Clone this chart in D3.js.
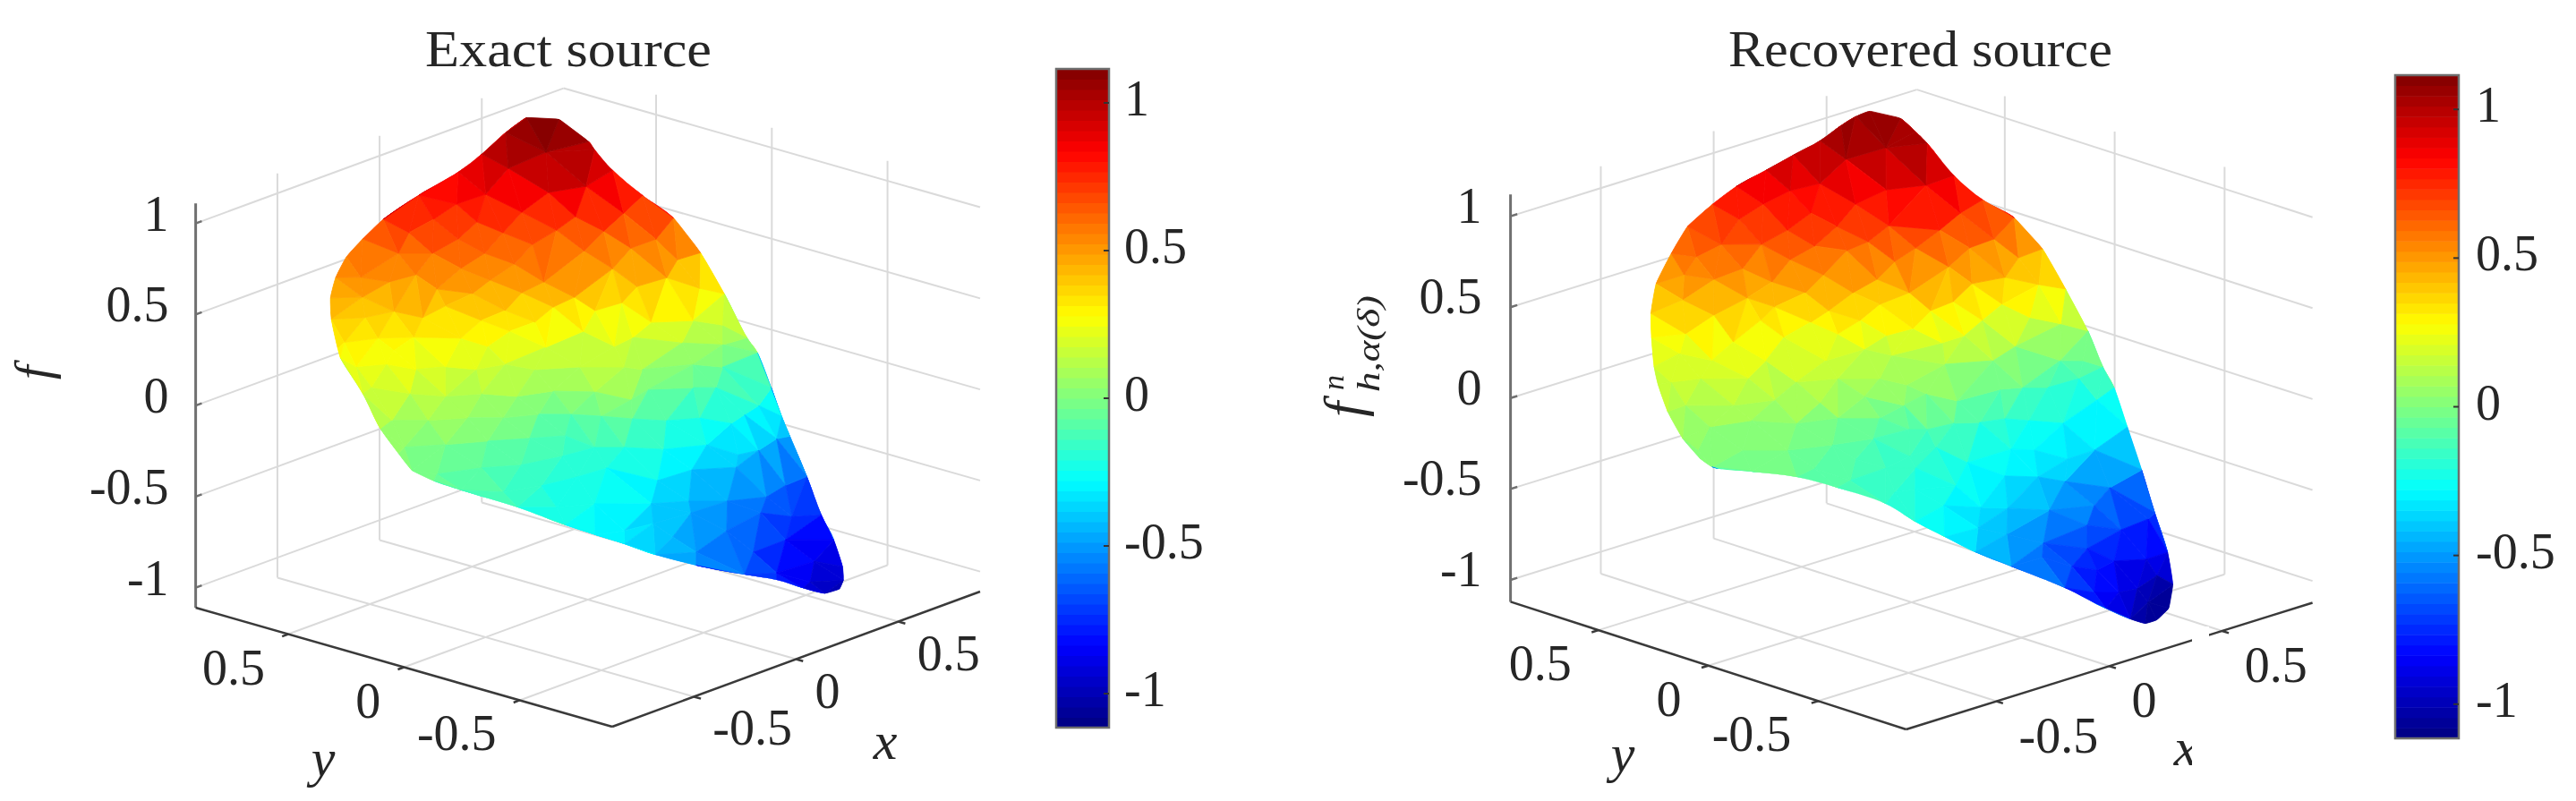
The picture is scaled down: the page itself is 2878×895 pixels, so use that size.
<!DOCTYPE html>
<html>
<head>
<meta charset="utf-8">
<script src="https://cdn.jsdelivr.net/npm/d3@7"></script>
<style>
html, body { margin: 0; padding: 0; background: #fff; }
svg { display: block; filter: blur(0.7px); }
text { font-family: "Liberation Serif", serif; fill: #262626; }
</style>
</head>
<body>
<div id="chart"></div>
<script>
//data: every node is [x, y, f], boundary nodes run clockwise round the domain
var xyTicks = [-0.5, 0, 0.5];
var zTicks = [-1, -0.5, 0, 0.5, 1];
var barTicks = [-1, -0.5, 0, 0.5, 1];

var exactBoundary = [
[.465,.677,1.10],[.536,.598,1.09],[.555,.486,1.0],[.548,.454,.97],[.569,.395,.87],[.609,.301,.75],
[.630,.186,.66],[.727,.154,.44],[.701,.028,.27],[.721,-.052,.05],[.835,.003,-.1],[.807,-.081,-.25],
[.737,-.188,-.34],[.771,-.193,-.46],[.778,-.260,-.66],[.685,-.405,-.78],[.633,-.505,-.86],[.547,-.619,-.93],
[.530,-.637,-.99],[.522,-.627,-1.04],[.403,-.669,-1.0],[.206,-.749,-.86],[.046,-.775,-.74],[-.146,-.806,-.62],
[-.359,-.785,-.49],[-.476,-.711,-.41],[-.556,-.649,-.34],[-.633,-.590,-.28],[-.678,-.501,-.24],[-.742,-.350,-.17],
[-.871,-.220,-.07],[-.916,-.144,-.03],[-.924,-.055,0],[-.867,.054,.03],[-.792,.197,.08],[-.685,.369,.17],
[-.601,.540,.27],[-.581,.569,.3],[-.496,.672,.39],[-.420,.743,.45],[-.323,.806,.5],[-.254,.820,.58],
[-.181,.814,.65],[-.085,.810,.72],[.062,.786,.8],[.184,.723,.9],[.273,.700,.97],[.403,.712,1.03]
];

var exactNodes = [
[.301,.447,1.06],[.223,.541,.97],[.323,.293,.92],[.265,.404,.87],[.171,.593,.83],[.076,.635,.8],
[.210,.471,.76],[.318,.335,.74],[.475,.265,.72],[.095,.563,.72],[-.005,.662,.74],[.125,.477,.68],
[-.076,.706,.68],[.286,.388,.66],[.023,.581,.65],[.182,.400,.62],[.421,.303,.63],[.513,.159,.6],
[.461,.221,.55],[.300,.281,.58],[.068,.506,.58],[-.071,.609,.6],[-.144,.692,.6],[.092,.399,.55],
[-.056,.500,.55],[.377,.226,.47],[.541,.091,.5],[-.296,.721,.52],[-.241,.645,.5],[-.172,.592,.53],
[.029,.448,.47],[.062,.245,.52],[.149,.190,.42],[.418,.157,.38],[.480,.083,.43],[.648,.088,.3],
[-.082,.426,.45],[-.152,.519,.47],[.030,.312,.45],[-.344,.670,.45],[-.316,.560,.4],[-.138,.494,.38],
[-.044,.318,.38],[.099,.237,.37],[.257,.196,.3],[.333,.147,.33],[.331,.018,.27],[.501,-.013,.22],
[.667,.006,.12],[-.397,.613,.38],[-.247,.496,.36],[-.101,.371,.33],[.042,.266,.3],[.213,.208,.2],
[-.519,.594,.3],[-.415,.542,.3],[-.331,.461,.3],[-.237,.340,.3],[-.052,.291,.28],[.273,.047,.2],
[.432,-.025,.13],[.221,.080,.16],[.615,-.040,.05],[.040,.217,.18],[-.419,.468,.26],[-.173,.281,.25],
[-.607,.466,.25],[-.536,.398,.26],[-.459,.338,.22],[-.348,.308,.2],[-.262,.252,.17],[-.173,.204,.18],
[-.096,.144,.14],[.048,.077,.12],[.115,-.056,.14],[.243,-.021,.06],[.473,-.038,0],[.557,-.091,-.03],
[-.633,.377,.18],[-.557,.278,.15],[-.460,.209,.12],[-.336,.163,.1],[-.239,.095,.07],[-.095,.067,.05],
[-.026,-.053,.06],[.032,-.158,.03],[.191,-.094,0],[.436,-.071,-.1],[.484,-.126,-.1],[.632,-.180,-.24],
[.548,-.193,-.25],[.480,-.195,-.27],[.358,-.168,-.2],[.185,-.177,-.14],[.031,-.166,-.07],[-.057,-.109,-.04],
[-.714,.216,.09],[-.610,.153,.07],[-.479,.098,.05],[-.348,.060,.01],[-.204,.033,-.02],[-.067,.013,-.07],
[-.766,.117,0],[-.645,.046,-.01],[-.487,.003,-.04],[-.336,-.045,-.07],[-.172,-.054,-.12],[-.155,-.167,-.15],
[-.051,-.203,-.18],[.101,-.239,-.24],[.308,-.242,-.3],[.411,-.287,-.38],[.488,-.307,-.38],[.668,-.226,-.42],
[-.816,-.068,-.06],[-.646,-.111,-.08],[-.488,-.140,-.12],[-.264,-.122,-.17],[-.216,-.272,-.2],[-.050,-.346,-.31],
[.144,-.322,-.34],[.368,-.317,-.42],[.429,-.394,-.58],[.611,-.315,-.62],[-.712,-.262,-.13],[-.516,-.255,-.18],
[-.305,-.223,-.23],[-.589,-.386,-.22],[-.427,-.407,-.26],[-.169,-.424,-.36],[.026,-.414,-.43],[.204,-.423,-.5],
[.324,-.461,-.6],[.526,-.417,-.72],[-.483,-.584,-.32],[-.300,-.547,-.37],[-.016,-.460,-.46],[.089,-.521,-.58],
[-.290,-.623,-.42],[-.218,-.661,-.52],[.122,-.607,-.68],[.421,-.483,-.78],[.154,-.680,-.78],[.485,-.550,-.9],
[.349,-.652,-.92]
];

var recoveredBoundary = [
[.529,.736,1.09],[.601,.667,1.05],[.579,.576,1.02],[.562,.505,.99],[.550,.371,.87],[.636,.329,.72],
[.709,.261,.62],[.809,.234,.42],[.732,.049,.3],[.743,-.041,.1],[.717,-.136,-.05],[.789,-.113,-.2],
[.696,-.269,-.32],[.657,-.374,-.5],[.640,-.451,-.7],[.585,-.566,-.85],[.562,-.613,-1.0],[.486,-.672,-1.08],
[.377,-.729,-1.08],[.262,-.794,-1.03],[.158,-.833,-.95],[.038,-.845,-.84],[-.151,-.853,-.65],[-.351,-.814,-.47],
[-.485,-.788,-.35],[-.536,-.702,-.28],[-.585,-.618,-.21],[-.590,-.489,-.16],[-.663,-.344,-.1],[-.743,-.240,-.05],
[-.858,-.153,-.01],[-.928,-.046,0],[-.898,.038,0],[-.859,.160,.05],[-.768,.322,.1],[-.691,.445,.17],
[-.613,.543,.2],[-.502,.669,.27],[-.449,.726,.36],[-.358,.796,.46],[-.225,.863,.55],[-.140,.876,.66],
[-.055,.850,.76],[.022,.820,.84],[.125,.791,.9],[.217,.761,.96],[.300,.725,1.02],[.391,.722,1.07],
[.449,.715,1.1]
];

var recoveredNodes = [
[.361,.487,1.05],[.292,.598,.97],[.191,.613,.87],[.086,.641,.86],[.334,.459,.84],[.217,.477,.8],
[.009,.684,.8],[-.062,.720,.73],[-.017,.547,.72],[.091,.552,.77],[.145,.489,.7],[.243,.353,.72],
[.355,.298,.92],[.480,.270,.73],[.377,.259,.68],[.300,.289,.6],[.539,.178,.6],[.472,.221,.56],
[.370,.211,.5],[-.177,.685,.65],[-.060,.621,.63],[-.064,.486,.6],[.021,.463,.65],[.126,.424,.6],
[.211,.414,.62],[.222,.304,.55],[-.257,.716,.6],[-.346,.679,.55],[-.246,.646,.5],[-.170,.594,.55],
[-.096,.536,.47],[.031,.433,.5],[.075,.343,.42],[.172,.333,.46],[-.359,.673,.42],[-.319,.572,.36],
[-.200,.542,.42],[-.150,.468,.38],[-.070,.410,.45],[-.029,.347,.36],[.024,.259,.32],[.117,.265,.37],
[.202,.217,.42],[-.412,.605,.28],[-.348,.453,.27],[-.200,.482,.32],[-.190,.385,.26],[-.074,.382,.3],
[-.058,.277,.27],[.103,.222,.22],[.050,.265,.15],[.176,.174,.25],[-.486,.555,.22],[-.438,.458,.2],
[-.292,.363,.18],[-.131,.255,.16],[.079,.173,.14],[.628,.158,.47],[.575,.165,.38],[.406,.142,.42],
[.626,.063,.36],[.327,.146,.35],[.226,.145,.34],[.427,.115,.22],[.508,.108,.28],[.579,.055,.2],
[.707,.044,.12],[.306,.072,.2],[.256,.123,.16],[.498,.037,.08],[.665,.005,-.05],[.778,.019,-.1],
[.424,.063,.02],[.188,.041,.1],[.003,-.064,.05],[.113,-.093,-.02],[.316,-.080,-.04],[.431,-.065,-.08],
[.537,-.069,-.12],[.709,-.035,-.15],[.713,-.112,-.24],[.500,-.177,-.26],[.403,-.121,-.23],[.273,-.145,-.16],
[.178,-.128,-.15],[.025,-.168,-.08],[-.054,-.127,-.1],[.510,-.309,-.36],[.387,-.313,-.36],[.298,-.253,-.3],
[.201,-.247,-.26],[-.042,-.298,-.22],[-.083,-.197,-.16],[-.247,-.272,-.18],[.561,-.326,-.58],[.300,-.390,-.42],
[.195,-.375,-.36],[.051,-.373,-.3],[-.180,-.387,-.26],[-.373,-.400,-.2],[.401,-.420,-.58],[.273,-.519,-.6],
[.141,-.483,-.48],[-.041,-.480,-.4],[-.172,-.492,-.34],[-.332,-.488,-.27],[.471,-.471,-.72],[.632,-.428,-.74],
[-.284,-.594,-.37],[-.136,-.573,-.47],[.049,-.550,-.6],[.263,-.530,-.72],[.338,-.575,-.8],[.524,-.530,-.88],
[-.028,-.624,-.62],[.078,-.650,-.7],[.211,-.627,-.78],[.231,-.706,-.88],[.400,-.617,-.96],[.099,-.730,-.82],
[.550,-.552,-.97],[.482,-.581,-1.08],[-.618,.460,.15],[-.564,.381,.18],[-.482,.249,.2],[-.309,.206,.13],
[-.205,.126,.14],[-.059,.084,.1],[.035,.058,.04],[-.671,.340,.09],[-.576,.219,.1],[-.445,.165,.1],
[-.325,.084,.07],[-.167,.042,.06],[-.039,-.005,-.02],[-.716,.184,.05],[-.590,.122,.06],[-.470,.041,.03],
[-.302,.026,0],[-.143,-.002,-.05],[-.069,-.060,-.12],[-.854,.095,.01],[-.728,.021,-.01],[-.590,-.041,-.04],
[-.425,-.076,-.06],[-.238,-.071,-.1],[-.180,-.175,-.18],[-.590,-.164,-.09],[-.409,-.165,-.11],[-.353,-.245,-.15],
[-.558,-.294,-.12],[-.451,-.387,-.19]
];

//setup
var width = 2878,
    height = 895,
    limXY = 0.9,
    numLevels = 64;

var panels = [
    {
        title: "Exact source", titleX: 475, titleLength: 320, nodes: exactNodes, boundary: exactBoundary,
        left: [218.6, 679], bottom: [684, 812], right: [1095, 661], limZ: 1.11, zSpan: 451.8,
        zTickLabel: { dx: -30, dy: 8 }, yTickLabel: { dx: -26, dy: 56 }, xTickLabel: { dx: 21, dy: 54 },
        barX: 1180, barWidth: 59, barTop: 77, barBottom: 813, barLabelX: 1256,
        yLabel: [361, 867], xLabel: [989, 848]
    },
    {
        title: "Recovered source", titleX: 1931, titleLength: 429, nodes: recoveredNodes, boundary: recoveredBoundary,
        left: [1687.6, 672.4], bottom: [2129.6, 815], right: [2583.6, 673.5], limZ: 1.12, zSpan: 455.2,
        zTickLabel: { dx: -32, dy: 7 }, yTickLabel: { dx: -30, dy: 56 }, xTickLabel: { dx: 25, dy: 57 },
        barX: 2676, barWidth: 71, barTop: 84, barBottom: 825, barLabelX: 2766,
        yLabel: [1813, 862], xLabel: [2442, 855]
    }
];

var svg = d3.select("#chart").append("svg")
    .attr("width", width)
    .attr("height", height);

// matlab jet, split into 64 flat levels
var jetScale = d3.scaleLinear()
    .domain([0, 0.125, 0.375, 0.625, 0.875, 1])
    .range(["#000080", "#0000ff", "#00ffff", "#ffff00", "#ff0000", "#800000"]);

var colorLimit = 1.115;

var levelScale = d3.scaleQuantize()
    .domain([-colorLimit, colorLimit])
    .range(d3.range(numLevels));

function levelColor(level) {
    return jetScale((level + 0.5) / numLevels);
}
// end of setup

function drawPanel(panel, index) {
    var g = svg.append("g");

    var xScale = d3.scaleLinear().domain([-limXY, limXY]).range([0, 1]);
    var yScale = d3.scaleLinear().domain([-limXY, limXY]).range([0, 1]);
    var zScale = d3.scaleLinear().domain([-panel.limZ, panel.limZ]).range([0, -panel.zSpan]);

    var bx = panel.bottom[0], by = panel.bottom[1];
    var rx = panel.right[0] - bx, ry = panel.right[1] - by;
    var lx = panel.left[0] - bx, ly = panel.left[1] - by;

    function project(x, y, z) {
        var tx = xScale(x), ty = yScale(y);
        return [bx + tx * rx + ty * lx, by + tx * ry + ty * ly + zScale(z)];
    }

    var lineGen = d3.line();

    function segment(parent, a, b, color, w) {
        parent.append("path")
            .attr("d", lineGen([a, b]))
            .attr("fill", "none")
            .attr("stroke", color)
            .attr("stroke-width", w);
    }

    //grid on floor and the two back walls
    var grid = g.append("g");
    var gridColor = "#dadada";
    var zMin = -panel.limZ, zMax = panel.limZ;

    xyTicks.forEach(function (t) {
        segment(grid, project(t, -limXY, zMin), project(t, limXY, zMin), gridColor, 2);
        segment(grid, project(-limXY, t, zMin), project(limXY, t, zMin), gridColor, 2);
        segment(grid, project(t, limXY, zMin), project(t, limXY, zMax), gridColor, 2);
        segment(grid, project(limXY, t, zMin), project(limXY, t, zMax), gridColor, 2);
    });
    zTicks.forEach(function (t) {
        segment(grid, project(-limXY, limXY, t), project(limXY, limXY, t), gridColor, 2);
        segment(grid, project(limXY, limXY, t), project(limXY, -limXY, t), gridColor, 2);
    });

    //surface
    var allNodes = panel.boundary.concat(panel.nodes);
    var screenNodes = allNodes.map(function (d) { return project(d[0], d[1], d[2]); });
    var outline = panel.boundary.map(function (d) { return project(d[0], d[1], d[2]); });

    svg.append("clipPath")
        .attr("id", "surface-clip-" + index)
        .append("path")
        .attr("d", d3.line().curve(d3.curveCatmullRomClosed.alpha(0.5))(outline));

    var delaunay = d3.Delaunay.from(screenNodes);
    var faces = [];
    for (var i = 0; i < delaunay.triangles.length; i += 3) {
        faces.push([delaunay.triangles[i], delaunay.triangles[i + 1], delaunay.triangles[i + 2]]);
    }

    g.append("g")
        .attr("clip-path", "url(#surface-clip-" + index + ")")
        .selectAll("path").data(faces)
        .enter().append("path")
        .attr("d", function (face) {
            return lineGen(face.map(function (n) { return screenNodes[n]; })) + "Z";
        })
        .each(function (face) {
            var mean = d3.mean(face, function (n) { return allNodes[n][2]; });
            var color = levelColor(levelScale(mean));
            d3.select(this).attr("fill", color).attr("stroke", color).attr("stroke-width", 0.8);
        });

    //axes
    var axisColor = "#3a3a3a";
    segment(g, project(-limXY, limXY, zMin), project(-limXY, limXY, zMax), "#707070", 3);
    segment(g, project(-limXY, limXY, zMin), project(-limXY, -limXY, zMin), axisColor, 2.5);
    segment(g, project(-limXY, -limXY, zMin), project(limXY, -limXY, zMin), axisColor, 2.5);

    var tickSize = 0.03;
    xyTicks.forEach(function (t) {
        segment(g, project(t, -limXY, zMin), project(t, -limXY - tickSize, zMin), axisColor, 2.5);
        segment(g, project(-limXY, t, zMin), project(-limXY - tickSize, t, zMin), axisColor, 2.5);

        var xp = project(t, -limXY, zMin);
        g.append("text")
            .attr("x", xp[0] + panel.xTickLabel.dx)
            .attr("y", xp[1] + panel.xTickLabel.dy)
            .attr("font-size", 56)
            .text(t);

        var yp = project(-limXY, t, zMin);
        g.append("text")
            .attr("x", yp[0] + panel.yTickLabel.dx)
            .attr("y", yp[1] + panel.yTickLabel.dy)
            .attr("text-anchor", "end")
            .attr("font-size", 56)
            .text(t);
    });

    zTicks.forEach(function (t) {
        var zp = project(-limXY, limXY, t);
        segment(g, zp, project(-limXY + tickSize, limXY, t), "#707070", 2.5);
        g.append("text")
            .attr("x", zp[0] + panel.zTickLabel.dx)
            .attr("y", zp[1] + panel.zTickLabel.dy)
            .attr("text-anchor", "end")
            .attr("font-size", 56)
            .text(t);
    });

    //labels
    g.append("text")
        .attr("x", panel.titleX)
        .attr("y", 74)
        .attr("font-size", 56)
        .attr("textLength", panel.titleLength)
        .attr("lengthAdjust", "spacingAndGlyphs")
        .text(panel.title);

    g.append("text")
        .attr("x", panel.yLabel[0])
        .attr("y", panel.yLabel[1])
        .attr("text-anchor", "middle")
        .attr("font-size", 60)
        .attr("font-style", "italic")
        .text("y");

    g.append("text")
        .attr("x", panel.xLabel[0])
        .attr("y", panel.xLabel[1])
        .attr("text-anchor", "middle")
        .attr("font-size", 60)
        .attr("font-style", "italic")
        .text("x");

    //colorbar
    var barScale = d3.scaleLinear()
        .domain([-colorLimit, colorLimit])
        .range([panel.barBottom, panel.barTop]);

    var levelHeight = (panel.barBottom - panel.barTop) / numLevels;

    g.append("g").selectAll("rect").data(d3.range(numLevels))
        .enter().append("rect")
        .attr("x", panel.barX)
        .attr("width", panel.barWidth)
        .attr("y", function (d) { return barScale(-colorLimit + (d + 1) * 2 * colorLimit / numLevels); })
        .attr("height", levelHeight + 0.5)
        .attr("fill", function (d) { return levelColor(d); });

    g.append("rect")
        .attr("x", panel.barX)
        .attr("y", panel.barTop)
        .attr("width", panel.barWidth)
        .attr("height", panel.barBottom - panel.barTop)
        .attr("fill", "none")
        .attr("stroke", "#6e6e6e")
        .attr("stroke-width", 2.5);

    barTicks.forEach(function (t) {
        segment(g, [panel.barX + panel.barWidth - 6, barScale(t)], [panel.barX + panel.barWidth, barScale(t)], "#333", 2);
        g.append("text")
            .attr("x", panel.barLabelX)
            .attr("y", barScale(t) + 14)
            .attr("font-size", 56)
            .text(t);
    });
}

panels.forEach(drawPanel);

//z label, left panel
svg.append("text")
    .attr("transform", "translate(56,424) rotate(-90)")
    .attr("font-size", 56)
    .attr("font-style", "italic")
    .text("f");

//z label, right panel
svg.append("text")
    .attr("transform", "translate(1522,466) rotate(-90)")
    .attr("font-size", 62)
    .attr("font-style", "italic")
    .text("f");

svg.append("text")
    .attr("transform", "translate(1501,436) rotate(-90)")
    .attr("font-size", 34)
    .attr("font-style", "italic")
    .text("n");

svg.append("text")
    .attr("transform", "translate(1541,438) rotate(-90)")
    .attr("font-size", 36)
    .attr("font-style", "italic")
    .attr("textLength", 108)
    .attr("lengthAdjust", "spacingAndGlyphs")
    .text("h,α(δ)");

//white strip that cuts the x axis of the right panel
svg.append("rect")
    .attr("x", 2449)
    .attr("y", 700)
    .attr("width", 19)
    .attr("height", 190)
    .attr("fill", "#fff");
</script>
</body>
</html>
